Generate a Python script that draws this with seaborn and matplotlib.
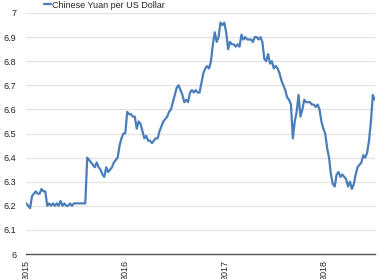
import matplotlib
matplotlib.use("Agg")
import matplotlib.pyplot as plt
import matplotlib.dates as mdates
from matplotlib.ticker import FuncFormatter, MultipleLocator
import seaborn as sns
import pandas as pd

# Weekly (Friday) USD/CNY readings
cny_2015 = [6.21, 6.20, 6.19, 6.24, 6.25,
            6.26, 6.25, 6.25, 6.27,
            6.26, 6.26, 6.20, 6.21,
            6.20, 6.21, 6.20, 6.21,
            6.20, 6.22, 6.20, 6.21, 6.20,
            6.20, 6.21, 6.20, 6.21,
            6.21, 6.21, 6.21, 6.21, 6.21,
            6.21, 6.40, 6.39, 6.38,
            6.37, 6.36, 6.38, 6.36,
            6.35, 6.33, 6.32, 6.36, 6.34,
            6.35, 6.36, 6.38, 6.39,
            6.40, 6.45, 6.48, 6.50]
cny_2016 = [6.50, 6.59, 6.58, 6.58, 6.57,
            6.57, 6.52, 6.55, 6.54,
            6.51, 6.48, 6.49, 6.47,
            6.47, 6.46, 6.47, 6.48, 6.48,
            6.51, 6.53, 6.55, 6.56,
            6.57, 6.59, 6.60, 6.63,
            6.66, 6.69, 6.70, 6.68, 6.66,
            6.63, 6.64, 6.63, 6.67,
            6.68, 6.67, 6.68, 6.67, 6.67,
            6.71, 6.75, 6.77, 6.78,
            6.77, 6.80, 6.87, 6.92,
            6.88, 6.90, 6.96, 6.95, 6.96]
cny_2017 = [6.92, 6.85, 6.88, 6.87,
            6.87, 6.86, 6.87, 6.86,
            6.91, 6.89, 6.90, 6.89, 6.89,
            6.89, 6.88, 6.90, 6.90,
            6.89, 6.90, 6.88, 6.81,
            6.80, 6.83, 6.79, 6.80, 6.77,
            6.78, 6.77, 6.75, 6.72,
            6.70, 6.68, 6.65, 6.64,
            6.62, 6.48, 6.55, 6.59, 6.66,
            6.57, 6.60, 6.64, 6.63,
            6.63, 6.63, 6.62, 6.62,
            6.61, 6.62, 6.60, 6.55, 6.52]
cny_2018 = [6.50, 6.44, 6.40, 6.33,
            6.29, 6.28, 6.33, 6.34,
            6.32, 6.33, 6.32, 6.31, 6.28,
            6.30, 6.27, 6.29, 6.33,
            6.36, 6.37, 6.38, 6.41,
            6.40, 6.42, 6.47, 6.55, 6.66,
            6.64]

values = cny_2015 + cny_2016 + cny_2017 + cny_2018
dates = pd.date_range("2015-01-02", periods=len(values), freq="W-FRI")
series_name = "Chinese Yuan per US Dollar"
df = pd.DataFrame({"date": dates, "value": values, "series": series_name})

y_ticks = [6.0, 6.1, 6.2, 6.3, 6.4, 6.5, 6.6, 6.7, 6.8, 6.9, 7.0]
year_ticks = ["2015-01-01", "2016-01-01", "2017-01-01", "2018-01-01"]

sns.set_style("white")
plt.rcParams["font.family"] = ["Liberation Sans", "DejaVu Sans"]

fig = plt.figure(figsize=(3.85, 2.79), dpi=100)
ax = fig.add_axes([26 / 385, 1 - 254 / 279, 349 / 385, 241 / 279])

sns.lineplot(data=df, x="date", y="value", hue="series",
             palette=["#4a7ebb"], linewidth=1.6, ax=ax, legend=False)

ax.set_ylim(6.0, 7.0)
ax.set_xlim(pd.Timestamp("2015-01-01"), pd.Timestamp("2018-07-07"))
ax.set_yticks(y_ticks)
ax.yaxis.set_major_formatter(FuncFormatter(lambda v, p: f"{v:g}"))
ax.set_xticks([pd.Timestamp(t) for t in year_ticks])
ax.xaxis.set_major_formatter(mdates.DateFormatter("%Y"))

ax.grid(axis="y", color="#e3e3e3", linewidth=0.9)
ax.grid(axis="x", visible=False)
for s in ["left", "right", "top"]:
    ax.spines[s].set_visible(False)
ax.spines["bottom"].set_color("#555555")
ax.spines["bottom"].set_linewidth(1.0)

ax.tick_params(axis="y", length=0, pad=7, labelsize=6.5, labelcolor="#222222")
ax.tick_params(axis="x", direction="inout", length=6, width=0.8, color="#555555",
               pad=1, labelsize=6.5, labelcolor="#222222", labelrotation=90)
ax.set_xlabel("")
ax.set_ylabel("")

from matplotlib.lines import Line2D
handle = Line2D([], [], color="#4a7ebb", linewidth=1.6)
fig.legend([handle], [series_name], loc="center left",
           bbox_to_anchor=(44 / 385, 1 - 5 / 279), frameon=False,
           fontsize=6.5, handlelength=0.75, handletextpad=0.1,
           borderpad=0, borderaxespad=0)

fig.savefig("out.png", dpi=100)
